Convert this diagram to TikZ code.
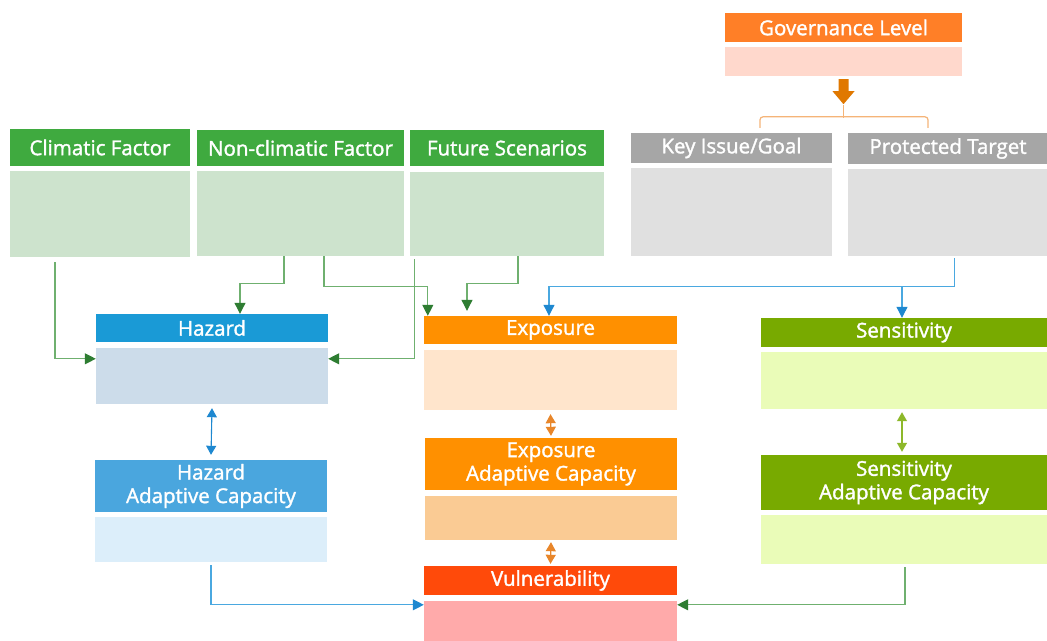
\documentclass[tikz,border=0pt]{standalone}
\usepackage{fontspec}
\setmainfont{Open Sans}
\newfontfamily\hdrfont[FakeBold=1.6]{Open Sans}
\usetikzlibrary{arrows.meta}

% header and panel colours
\definecolor{gHead}{HTML}{3FAA3F}
\definecolor{gBody}{HTML}{CDE3CD}
\definecolor{kHead}{HTML}{A6A6A6}
\definecolor{kBody}{HTML}{E0E0E0}
\definecolor{oHead}{HTML}{FF7F27}
\definecolor{oBody}{HTML}{FFD8CC}
\definecolor{hzHead}{HTML}{1A9AD6}
\definecolor{hzBody}{HTML}{CCDCEA}
\definecolor{haHead}{HTML}{4AA6DE}
\definecolor{haBody}{HTML}{DCEEFA}
\definecolor{exHead}{HTML}{FF9000}
\definecolor{exBody}{HTML}{FFE5CC}
\definecolor{eaBody}{HTML}{FACB94}
\definecolor{vuHead}{HTML}{FF4A0A}
\definecolor{vuBody}{HTML}{FFAAAA}
\definecolor{seHead}{HTML}{78AA00}
\definecolor{seBody}{HTML}{EAFCB8}
% connector colours
\definecolor{gLine}{HTML}{6FB06F}
\definecolor{gTip}{HTML}{2E7D32}
\definecolor{bLine}{HTML}{4AA8E0}
\definecolor{bTip}{HTML}{1E88D0}
\definecolor{oLine}{HTML}{E8862A}
\definecolor{lLine}{HTML}{8DB82A}
\definecolor{brk}{HTML}{F5B478}
\definecolor{bigArrow}{HTML}{E07800}

\begin{document}
\begin{tikzpicture}[x=1pt, y=-1pt,
  hdr/.style={rectangle, inner sep=0pt, text=white, align=center,
              font=\hdrfont\fontsize{20.5}{23.5}\selectfont},
  panel/.style={rectangle, inner sep=0pt},
  gconn/.style={draw=gLine, line width=1.1pt,
                -{Triangle[width=11pt,length=11pt,color=gTip]}},
  bconn/.style={draw=bLine, line width=1.1pt,
                -{Triangle[width=11pt,length=11pt,color=bTip]}},
  twoway/.style={line width=1.1pt,
                 {Triangle[width=10pt,length=9pt]}-{Triangle[width=10pt,length=9pt]}},
]
\useasboundingbox (0,0) rectangle (1047,640);
\fill[white] (0,0) rectangle (1047,640);

% ---- factor boxes (top left) ----
\node[hdr, fill=gHead, minimum width=180pt, minimum height=37pt] (cfh) at (100,147.5) {Climatic Factor};
\node[panel, fill=gBody, minimum width=180pt, minimum height=86pt] (cfb) at (100,214) {};
\node[hdr, fill=gHead, minimum width=207pt, minimum height=36pt] (nch) at (300.5,148) {Non-climatic Factor};
\node[panel, fill=gBody, minimum width=207pt, minimum height=85pt] (ncb) at (300.5,213.5) {};
\node[hdr, fill=gHead, minimum width=194pt, minimum height=36pt] (fsh) at (507,148) {Future Scenarios};
\node[panel, fill=gBody, minimum width=194pt, minimum height=84pt] (fsb) at (507,214) {};

% ---- governance level ----
\node[hdr, fill=oHead, minimum width=237pt, minimum height=29pt] (glh) at (843.5,27.5) {Governance Level};
\node[panel, fill=oBody, minimum width=237pt, minimum height=29pt] (glb) at (843.5,61.5) {};

% ---- issue / target ----
\node[hdr, fill=kHead, minimum width=201pt, minimum height=30pt] (kih) at (731.5,148) {Key Issue/Goal};
\node[panel, fill=kBody, minimum width=201pt, minimum height=88pt] (kib) at (731.5,212) {};
\node[hdr, fill=kHead, minimum width=200pt, minimum height=31pt] (pth) at (948,148.5) {Protected Target};
\node[panel, fill=kBody, minimum width=200pt, minimum height=87pt] (ptb) at (948,212.5) {};

% ---- hazard column ----
\node[hdr, fill=hzHead, minimum width=232pt, minimum height=28pt] (hzh) at (212,328) {Hazard};
\node[panel, fill=hzBody, minimum width=232pt, minimum height=56pt] (hzb) at (212,376) {};
\node[hdr, fill=haHead, minimum width=232pt, minimum height=52pt] (hah) at (211,486) {Hazard\\Adaptive Capacity};
\node[panel, fill=haBody, minimum width=232pt, minimum height=45pt] (hab) at (211,539.5) {};

% ---- exposure column ----
\node[hdr, fill=exHead, minimum width=253pt, minimum height=28pt] (exh) at (550.5,330) {Exposure};
\node[panel, fill=exBody, minimum width=253pt, minimum height=60pt] (exb) at (550.5,380) {};
\node[hdr, fill=exHead, minimum width=252pt, minimum height=52pt] (eah) at (551,464) {Exposure\\Adaptive Capacity};
\node[panel, fill=eaBody, minimum width=252pt, minimum height=44pt] (eab) at (551,518) {};
\node[hdr, fill=vuHead, minimum width=253pt, minimum height=29pt] (vuh) at (550.5,580.5) {Vulnerability};
\node[panel, fill=vuBody, minimum width=253pt, minimum height=44pt] (vub) at (550.5,623) {};

% ---- sensitivity column ----
\node[hdr, fill=seHead, minimum width=286pt, minimum height=29pt] (seh) at (904,332.5) {Sensitivity};
\node[panel, fill=seBody, minimum width=286pt, minimum height=57pt] (seb) at (904,380.5) {};
\node[hdr, fill=seHead, minimum width=286pt, minimum height=55pt] (sah) at (904,482.5) {Sensitivity\\Adaptive Capacity};
\node[panel, fill=seBody, minimum width=286pt, minimum height=49pt] (sab) at (904,539.5) {};

% ---- governance arrow and bracket ----
\fill[bigArrow] ([xshift=-5pt,yshift=-3pt]glb.south) -- ++(10,0) -- ++(0,12)
  -- ++(6,0) -- ++(-11,13) -- ++(-11,-13) -- ++(6,0) -- cycle;
\draw[brk, line width=1.2pt, rounded corners=3pt]
  ([xshift=28.5pt,yshift=5pt]kih.north) -- ++(0,-11) -- ([xshift=-20pt,yshift=16pt]pth.north) -- ++(0,11);
\draw[brk, line width=1.2pt] ([yshift=-29pt]glb.south) -- ++(0,13);

% ---- connectors from the factor boxes ----
\draw[gconn] ([xshift=-45pt,yshift=-5pt]cfb.south) |- ([yshift=-11pt]hzb.north west);
\draw[gconn] ([xshift=-16.5pt]ncb.south) -- ++(0,27) -| ([xshift=28pt]hzh.north);
\draw[gconn] ([xshift=23.5pt]ncb.south) -- ++(0,30) -| ([xshift=4pt]exh.north west);
\draw[gconn] ([xshift=5pt,yshift=-3pt]fsb.south west) |- ([yshift=-11pt]hzb.north east);
\draw[gconn] ([xshift=11pt]fsb.south) -- ++(0,27) -| ([xshift=-83.5pt,yshift=5pt]exh.north);

% ---- connectors from the protected target ----
\draw[bconn] ([xshift=6.5pt,yshift=-2pt]ptb.south) -- ++(0,28) -| ([xshift=-1.5pt]exh.north);
\draw[bconn] ([xshift=6.5pt,yshift=-2pt]ptb.south) -- ++(0,28) -| ([xshift=-2pt]seh.north);

% ---- two-way links inside the columns ----
\draw[twoway, draw=bLine, color=bTip] ([yshift=-4pt]hzb.south) -- ([yshift=5pt]hah.north);
\draw[twoway, oLine] ([yshift=-4pt]exb.south) -- ([yshift=2pt]eah.north);
\draw[twoway, oLine] ([yshift=-2pt]eab.south) -- ([yshift=2pt]vuh.north);
\draw[twoway, lLine] ([xshift=-2pt,yshift=-3pt]seb.south) -- ([xshift=-2pt,yshift=3pt]sah.north);

% ---- links into vulnerability ----
\draw[bconn] ([yshift=-3pt]hab.south) |- ([yshift=-4pt]vub.north west);
\draw[gconn] ([xshift=1pt,yshift=-3pt]sab.south) |- ([yshift=-4pt]vub.north east);
\end{tikzpicture}
\end{document}
